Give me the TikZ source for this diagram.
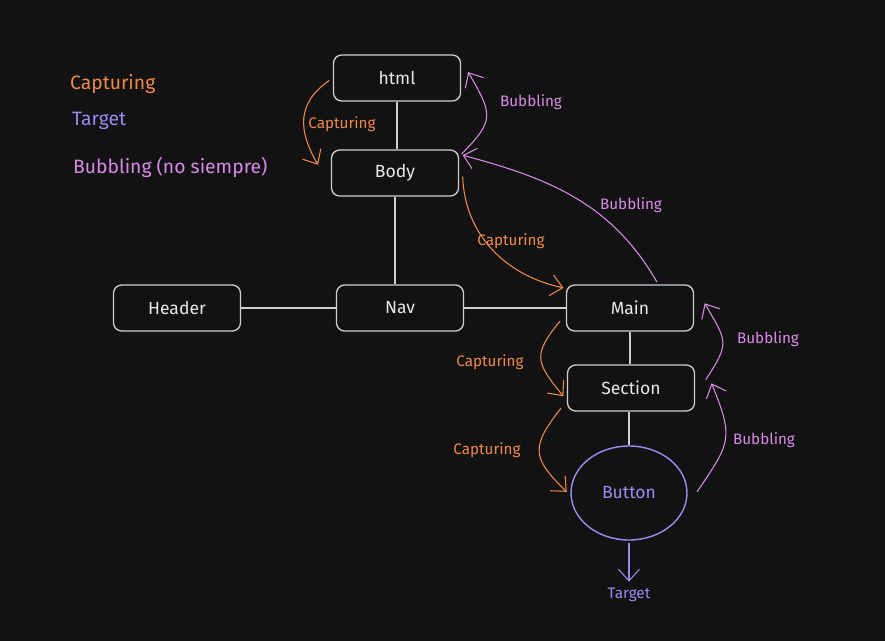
\documentclass[tikz,border=0pt]{standalone}
\usepackage{fontspec}
\setmainfont{Fira Sans}
\usetikzlibrary{positioning, arrows.meta, shapes.geometric}

\definecolor{bgdark}{HTML}{121212}
\definecolor{boxgray}{HTML}{CFCFCF}
\definecolor{boxtext}{HTML}{E8E8E8}
\definecolor{capcol}{HTML}{F08A4B}
\definecolor{tgtcol}{HTML}{9C8CF2}
\definecolor{bubcol}{HTML}{D98BE8}

\begin{document}
\begin{tikzpicture}[x=0.03cm,y=0.03cm,>={Straight Barb[length=10pt,width=18pt]},
    elem/.style={draw=boxgray,line width=1.1pt,rounded corners=7pt,minimum width=3.81cm,
        minimum height=1.38cm,text=boxtext,font=\fontsize{15}{18}\selectfont},
    link/.style={draw=boxgray,line width=1.1pt},
    capflow/.style={->,draw=capcol,line width=0.9pt},
    bubflow/.style={->,draw=bubcol,line width=0.9pt},
    caplbl/.style={text=capcol,font=\fontsize{13}{15}\selectfont},
    bublbl/.style={text=bubcol,font=\fontsize{13}{15}\selectfont},
    legend/.style={anchor=west,font=\fontsize{16.5}{19}\selectfont}]
    \path[fill=bgdark,use as bounding box] (0,-641) rectangle (885,0);

    % legend
    \node[legend,text=capcol] (legcap) at (66,-84) {Capturing};
    \node[legend,text=tgtcol] (legtgt) at (68,-121) {Target};
    \node[legend,text=bubcol] (legbub) at (69,-167) {Bubbling (no siempre)};

    % dom tree
    \node[elem] (html) at (397,-78) {html};
    \node[elem] (body) at (395,-173) {Body};
    \node[elem] (header) at (177,-308) {Header};
    \node[elem] (nav) at (400,-308) {Nav};
    \node[elem] (main) at (630,-308) {Main};
    \node[elem] (section) at (631,-388) {Section};
    \node[ellipse,draw=tgtcol,line width=1.2pt,minimum width=3.48cm,minimum height=2.82cm,
        text=tgtcol,font=\fontsize{15}{18}\selectfont] (button) at (629,-493) {Button};
    \node[text=tgtcol,font=\fontsize{13}{15}\selectfont] (target) at (629,-595) {Target};

    \draw[link] (html.south) -- (html.south |- body.north);
    \draw[link] (body.south) -- (body.south |- nav.north);
    \draw[link] (header.east) -- (nav.west);
    \draw[link] (nav.east) -- (main.west);
    \draw[link] (main.south) -- (main.south |- section.north);
    \draw[link] (button.north |- section.south) -- (button.north);

    % capturing
    \path ([xshift=-3pt,yshift=-2pt]html.west) edge[capflow,out=215,in=120,looseness=1.2]
            ([xshift=-11pt,yshift=7pt]body.west)
          ([xshift=3pt,yshift=-3pt]body.east) edge[capflow,out=272,in=168]
            ([xshift=-2pt,yshift=-3pt]main.north west)
          ([xshift=-5pt,yshift=9pt]main.south west) edge[capflow,out=231,in=129,looseness=1.5]
            ([xshift=-3pt,yshift=-7pt]section.west)
          ([xshift=-5pt,yshift=3pt]section.south west) edge[capflow,out=232,in=136,looseness=1.5]
            ([xshift=-3pt,yshift=1pt]button.west);
    \node[caplbl] (capa) at (342,-124) {Capturing};
    \node[caplbl] (capb) at (511,-241) {Capturing};
    \node[caplbl] (capc) at (490,-362) {Capturing};
    \node[caplbl] (capd) at (487,-450) {Capturing};

    % bubbling
    \path ([xshift=2pt,yshift=-4pt]body.north east) edge[bubflow,out=45,in=300,looseness=1.5]
            ([xshift=6pt,yshift=5pt]html.east)
          ([xshift=23pt,yshift=2pt]main.north) edge[bubflow,out=120,in=345]
            ([xshift=3pt,yshift=-5pt]body.north east)
          ([xshift=9pt,yshift=7pt]section.east) edge[bubflow,out=57,in=300,looseness=1.5]
            ([xshift=9pt,yshift=4pt]main.east)
          ([xshift=8pt,yshift=1pt]button.east) edge[bubflow,out=56,in=292,looseness=1.4]
            ([xshift=14pt,yshift=4pt]section.east);
    \node[bublbl] (buba) at (531,-102) {Bubbling};
    \node[bublbl] (bubb) at (631,-205) {Bubbling};
    \node[bublbl] (bubc) at (768,-339) {Bubbling};
    \node[bublbl] (bubd) at (764,-440) {Bubbling};

    % target
    \path (button.south) edge[->,draw=tgtcol,line width=0.9pt,shorten <=2pt,shorten >=2pt]
            (target.north);
\end{tikzpicture}
\end{document}
